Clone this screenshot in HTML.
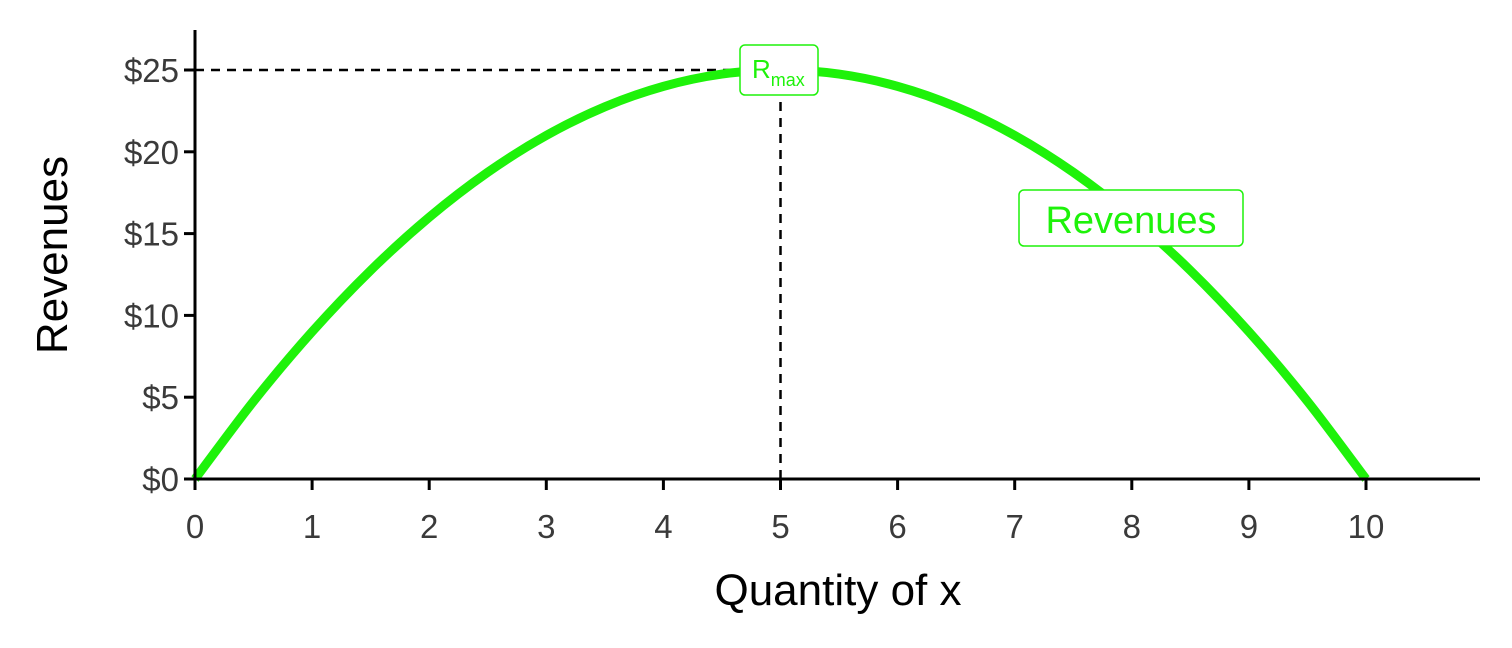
<!DOCTYPE html>
<html><head><meta charset="utf-8"><style>
html,body{margin:0;padding:0;background:#fff;}
svg{display:block;font-family:"Liberation Sans",sans-serif;}
</style></head><body>
<svg id="chart" width="1512" height="648" viewBox="0 0 1512 648">
</svg>
<script>
const quantities=[0,0.5,1,1.5,2,2.5,3,3.5,4,4.5,5,5.5,6,6.5,7,7.5,8,8.5,9,9.5,10];
const revenues=[0,4.75,9,12.75,16,18.75,21,22.75,24,24.75,25,24.75,24,22.75,21,18.75,16,12.75,9,4.75,0];
const xTicks=[0,1,2,3,4,5,6,7,8,9,10];
const yTicks=[0,5,10,15,20,25];
const yTickLabels=["$0","$5","$10","$15","$20","$25"];
const rmaxQ=5, rmaxR=25;

const NS="http://www.w3.org/2000/svg";
const svg=document.getElementById('chart');
const X=v=>195+v*117.1;
const Y=v=>479-v*16.36;
function mk(tag,attrs,parent){const e=document.createElementNS(NS,tag);for(const k in attrs)e.setAttribute(k,attrs[k]);(parent||svg).appendChild(e);return e;}

// guides
let g=mk('line',{x1:X(0),y1:Y(rmaxR),x2:X(rmaxQ),y2:Y(rmaxR),stroke:'#000','stroke-width':2.5,'stroke-dasharray':'9,7'});


g=mk('line',{x1:X(rmaxQ),y1:Y(rmaxR),x2:X(rmaxQ),y2:Y(0),stroke:'#000','stroke-width':2.5,'stroke-dasharray':'9,7'});



// smooth curve (Catmull-Rom through data points)
const P=quantities.map((q,i)=>[X(q),Y(revenues[i])]);
let d='M'+P[0][0]+','+P[0][1];
for(let i=0;i<P.length-1;i++){
  const p0=P[Math.max(i-1,0)],p1=P[i],p2=P[i+1],p3=P[Math.min(i+2,P.length-1)];
  const c1=[p1[0]+(p2[0]-p0[0])/6,p1[1]+(p2[1]-p0[1])/6];
  const c2=[p2[0]-(p3[0]-p1[0])/6,p2[1]-(p3[1]-p1[1])/6];
  d+=' C'+c1[0]+','+c1[1]+' '+c2[0]+','+c2[1]+' '+p2[0]+','+p2[1];
}
const curve=mk('path',{d:d,fill:'none',stroke:'#1ef20a','stroke-width':9,'stroke-linejoin':'round'});



// axes
let ax=mk('line',{x1:195,y1:30,x2:195,y2:479,stroke:'#000','stroke-width':3});


ax=mk('line',{x1:193.5,y1:479,x2:1480,y2:479,stroke:'#000','stroke-width':3});



xTicks.forEach(t=>{
  const l=mk('line',{x1:X(t),y1:479,x2:X(t),y2:490,stroke:'#000','stroke-width':3});
  
  
  const tx=mk('text',{x:X(t),y:538,'text-anchor':'middle','font-size':33,fill:'#3a3a3a'});
  tx.textContent=t;
  
  
});
yTicks.forEach((t,i)=>{
  const l=mk('line',{x1:184,y1:Y(t),x2:195,y2:Y(t),stroke:'#000','stroke-width':3});
  
  
  const tx=mk('text',{x:179,y:Y(t)+12,'text-anchor':'end','font-size':33,fill:'#3a3a3a'});
  tx.textContent=yTickLabels[i];
  
  
});

// titles
let tt=mk('text',{x:838,y:605,'text-anchor':'middle','font-size':44,fill:'#000'});
tt.textContent='Quantity of x';


tt=mk('text',{x:67,y:255,'text-anchor':'middle','font-size':44,fill:'#000',transform:'rotate(-90 67 255)'});
tt.textContent='Revenues';



// labels
let r=mk('rect',{x:740,y:45,width:78,height:50,rx:5,fill:'#fff',stroke:'#1ef20a','stroke-width':1.5});


let lt=mk('text',{x:752,y:78,'font-size':26,fill:'#1ef20a'});


lt.innerHTML='R<tspan dy="8" font-size="18">max</tspan>';
r=mk('rect',{x:1019,y:190,width:224,height:56,rx:5,fill:'#fff',stroke:'#1ef20a','stroke-width':1.5});


lt=mk('text',{x:1131,y:233,'text-anchor':'middle','font-size':38,fill:'#1ef20a'});
lt.textContent='Revenues';


</script>
</body></html>
